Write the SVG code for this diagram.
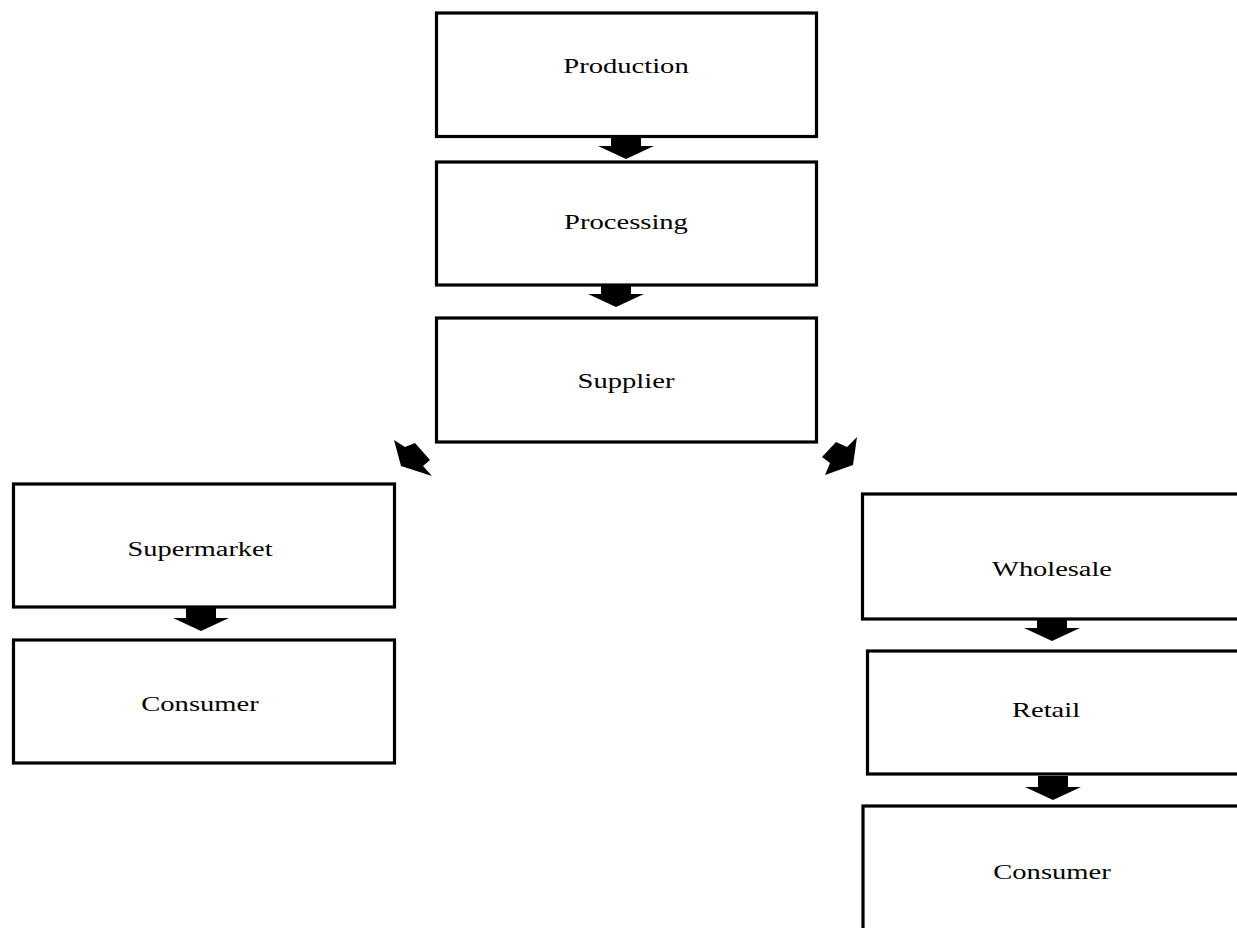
<svg xmlns="http://www.w3.org/2000/svg" width="1237" height="928" viewBox="0 0 1237 928">
<style>
.box{fill:#fff;stroke:#000;stroke-width:3.2}
.lbl{font-family:"Liberation Serif","Times New Roman",serif;font-size:20px;fill:#000;text-anchor:middle}
.arr{fill:#000}
</style>
<defs>
<path id="down" d="M-15,-24 H15 V-13 H28 L0,0 L-28,-13 H-15 Z"/>
</defs>
<rect width="1237" height="928" fill="#fff"/>
<g id="connectors">
<use href="#down" class="arr" transform="translate(626,159)"/>
<use href="#down" class="arr" transform="translate(616,307)"/>
<polygon class="arr" points="394,440 405,447 415,443 430,460 423,466 432,476 401,466"/>
<polygon class="arr" points="836,442 847,447 857,437 853,465 825,475 830,463 822,457"/>
<use href="#down" class="arr" transform="translate(201,631)"/>
<use href="#down" class="arr" transform="translate(1052,641)"/>
<use href="#down" class="arr" transform="translate(1053,800)"/>
</g>
<g id="production">
<rect class="box" x="436.5" y="13" width="380" height="123.5"/>
<text class="lbl" transform="translate(626,73) scale(1.43,1)">Production</text>
</g>
<g id="processing">
<rect class="box" x="436.5" y="162" width="380" height="123"/>
<text class="lbl" transform="translate(626,229) scale(1.43,1)">Processing</text>
</g>
<g id="supplier">
<rect class="box" x="436.5" y="318" width="380" height="124"/>
<text class="lbl" transform="translate(626,388) scale(1.43,1)">Supplier</text>
</g>
<g id="supermarket">
<rect class="box" x="13.5" y="484" width="381" height="123"/>
<text class="lbl" transform="translate(200,556) scale(1.42,1)">Supermarket</text>
</g>
<g id="consumer-left">
<rect class="box" x="13.5" y="640" width="381" height="123"/>
<text class="lbl" transform="translate(200,711) scale(1.43,1)">Consumer</text>
</g>
<g id="wholesale">
<rect class="box" x="862.5" y="494" width="400" height="125"/>
<text class="lbl" transform="translate(1052,576) scale(1.42,1)">Wholesale</text>
</g>
<g id="retail">
<rect class="box" x="867.5" y="651" width="400" height="123"/>
<text class="lbl" transform="translate(1046,717) scale(1.43,1)">Retail</text>
</g>
<g id="consumer-right">
<rect class="box" x="863" y="806" width="400" height="140"/>
<text class="lbl" transform="translate(1052,879) scale(1.43,1)">Consumer</text>
</g>
</svg>
